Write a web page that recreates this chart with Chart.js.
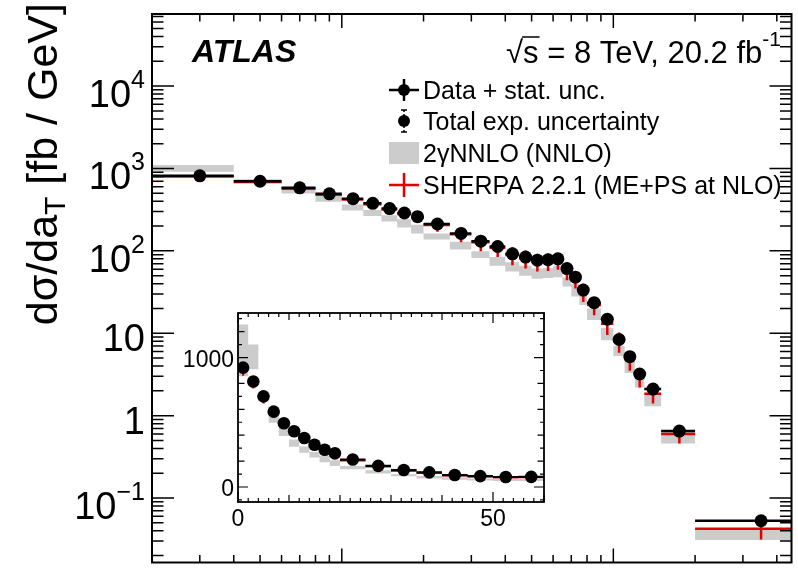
<!DOCTYPE html>
<html>
<head>
<meta charset="utf-8">
<script src="https://cdn.jsdelivr.net/npm/chart.js@4.4.1/dist/chart.umd.min.js"></script>
<style>
body { margin: 0; background: #fff; }
#wrap { position: relative; width: 798px; height: 569px; }
#main { position: absolute; left: 0; top: 0; }
#inset { position: absolute; left: 170px; top: 300px; }
</style>
</head>
<body>
<div id="wrap">
<canvas id="main" width="798" height="569"></canvas>
<canvas id="inset" width="390" height="240"></canvas>
</div>
<script>
// bins in a_T [GeV]
const binEdges = [0, 2, 4, 6, 8, 10, 12, 14, 16, 18, 20, 25, 30, 35, 40, 45, 50, 55, 60, 65, 70, 75, 80, 90, 100, 110, 120, 130, 150, 200, 500];
// dsigma/daT [fb/GeV]
const dataVals = [922, 815, 700, 582, 492, 430, 378, 326, 288, 260, 212, 163, 131, 113, 92, 84, 77, 78, 80, 61, 48, 33.4, 23.5, 14.8, 8.4, 5.2, 3.2, 2.1, 0.65, 0.053];
const dataStat = [20, 14, 12, 10, 9, 8, 7, 7, 6, 6, 4, 4, 3, 3, 3, 3, 3, 3, 3, 2.5, 2, 1.6, 1.1, 0.8, 0.5, 0.35, 0.25, 0.15, 0.05, 0.007];
const nnloLo = [855, 910, 660, 496, 394, 310, 265, 227, 192, 163, 137, 104, 82, 66, 56, 50, 46, 47, 48, 37, 28, 22, 14.5, 8.2, 5.3, 3.3, 2.2, 1.3, 0.46, 0.031];
const nnloHi = [1255, 1100, 740, 595, 490, 366, 313, 270, 242, 207, 163, 129, 99, 84, 73, 66, 61, 62, 66, 48, 39.5, 29, 20, 11.6, 7.0, 5.0, 3.3, 1.8, 0.67, 0.0433];
const sherpaVals = [905, 800, 685, 567, 480, 420, 367, 318, 281, 253, 206, 159, 127, 109, 89, 81, 74, 75, 77, 58, 46, 32, 22, 13, 8.0, 4.8, 3.0, 1.85, 0.60, 0.0424];
const sherpaErr = [45, 40, 40, 35, 30, 30, 30, 32, 32, 30, 35, 32, 28, 25, 22, 20, 18, 18, 18, 14, 11, 8, 5.5, 3.5, 2.2, 1.3, 0.8, 0.45, 0.14, 0.011];

const yTickVals = [1e4, 1e3, 1e2, 10, 1, 0.1];
const yTickBase = ['10', '10', '10', '10', '1', '10'];
const yTickSup = ['4', '3', '2', '', '', '\u22121'];
const insetXTicks = [0, 50];
const insetYTicks = [0, 1000];

const legendLabels = ['Data + stat. unc.', 'Total exp. uncertainty', '2\u03b3NNLO (NNLO)', 'SHERPA 2.2.1 (ME+PS at NLO)'];

const FONT = '"Liberation Sans", Arial, Helvetica, sans-serif';
const GRAY = '#cccccc';
const RED = '#e00000';

function binIdx(keep) {
  const out = [];
  for (let i = 0; i < dataVals.length; i++) if (keep(binEdges[i], binEdges[i + 1])) out.push(i);
  return out;
}
function steps(vals, idx) {
  const pts = [];
  for (const i of idx) {
    pts.push({x: binEdges[i], y: vals[i]}, {x: binEdges[i + 1], y: vals[i]});
  }
  return pts;
}
function segs(vals, idx) {
  const pts = [];
  for (const i of idx) {
    pts.push({x: binEdges[i], y: vals[i]}, {x: binEdges[i + 1], y: vals[i]}, {x: binEdges[i + 1], y: null});
  }
  return pts;
}
function bars(vals, err, idx) {
  const pts = [];
  for (const i of idx) {
    const xc = (binEdges[i] + binEdges[i + 1]) / 2;
    pts.push({x: xc, y: vals[i] - err[i]}, {x: xc, y: vals[i] + err[i]}, {x: xc, y: null});
  }
  return pts;
}
function centres(vals, idx) {
  return idx.map(i => ({x: (binEdges[i] + binEdges[i + 1]) / 2, y: vals[i]}));
}

function makeDatasets(idx, ptR, lw) {
  return [
    {type: 'scatter', data: centres(dataVals, idx), showLine: false, pointRadius: ptR, pointBackgroundColor: '#000', pointBorderWidth: 0, order: 0},
    {data: bars(dataVals, dataStat, idx), borderColor: '#000', borderWidth: lw, pointRadius: 0, order: 1},
    {data: segs(dataVals, idx), borderColor: '#000', borderWidth: lw, pointRadius: 0, order: 2},
    {data: bars(sherpaVals, sherpaErr, idx), borderColor: RED, borderWidth: lw, pointRadius: 0, order: 3},
    {data: segs(sherpaVals, idx), borderColor: RED, borderWidth: lw, pointRadius: 0, order: 4},
    {data: steps(nnloHi, idx), borderWidth: 0, pointRadius: 0, fill: '+1', backgroundColor: GRAY, order: 5},
    {data: steps(nnloLo, idx), borderWidth: 0, pointRadius: 0, order: 6}
  ];
}

function logTicks(min, max) {
  const out = [];
  for (let d = Math.floor(Math.log10(min)); d <= Math.ceil(Math.log10(max)); d++) {
    for (let m = 1; m <= 9; m++) {
      const v = m * Math.pow(10, d);
      if (v >= min && v <= max) out.push({v: v, major: m === 1});
    }
  }
  return out;
}

const mainDecor = {
  id: 'mainDecor',
  afterDraw(chart) {
    const {ctx, chartArea: a, scales: {x, y}} = chart;
    ctx.save();
    ctx.strokeStyle = '#000';
    ctx.lineWidth = 1.5;
    ctx.beginPath();
    for (const t of logTicks(x.min, x.max)) {
      const px = x.getPixelForValue(t.v);
      const len = t.major ? 14 : 7.5;
      ctx.moveTo(px, a.bottom); ctx.lineTo(px, a.bottom - len);
      ctx.moveTo(px, a.top); ctx.lineTo(px, a.top + len);
    }
    for (const t of logTicks(y.min, y.max)) {
      const py = y.getPixelForValue(t.v);
      const len = t.major ? 22 : 11.5;
      ctx.moveTo(a.left, py); ctx.lineTo(a.left + len, py);
      ctx.moveTo(a.right, py); ctx.lineTo(a.right - len, py);
    }
    ctx.stroke();
    ctx.lineWidth = 2;
    ctx.strokeRect(a.left, a.top, a.right - a.left, a.bottom - a.top);

    // y tick labels
    ctx.fillStyle = '#000';
    ctx.textBaseline = 'alphabetic';
    ctx.textAlign = 'left';
    yTickVals.forEach((v, i) => {
      const py = y.getPixelForValue(v);
      ctx.font = '25px ' + FONT;
      const sw = yTickSup[i] ? ctx.measureText(yTickSup[i]).width : 0;
      ctx.font = '38px ' + FONT;
      const bw = ctx.measureText(yTickBase[i]).width;
      const right = 145;
      if (yTickSup[i]) {
        ctx.fillText(yTickBase[i], right - sw - bw, py + 21);
        ctx.font = '25px ' + FONT;
        ctx.fillText(yTickSup[i], right - sw, py + 2);
      } else {
        ctx.fillText(yTickBase[i], right - bw, py + 18);
      }
    });

    // y axis title, rotated, end aligned with top
    ctx.save();
    ctx.translate(57, 3);
    ctx.rotate(-Math.PI / 2);
    const big = '43px ' + FONT, small = '30px ' + FONT;
    ctx.font = big;
    const w1 = ctx.measureText('d\u03c3/da').width;
    const w3 = ctx.measureText(' [fb / GeV]').width;
    ctx.font = small;
    const w2 = ctx.measureText('T').width;
    let cx = -(w1 + w2 + w3);
    ctx.font = big;
    ctx.fillText('d\u03c3/da', cx, 0);
    cx += w1;
    ctx.font = small;
    ctx.fillText('T', cx, 8);
    cx += w2;
    ctx.font = big;
    ctx.fillText(' [fb / GeV]', cx, 0);
    ctx.restore();

    // ATLAS label
    ctx.font = 'italic bold 32px ' + FONT;
    ctx.fillText('ATLAS', 192, 62);

    // sqrt(s) label, right aligned
    const f1 = '31px ' + FONT, f2 = '21px ' + FONT;
    ctx.font = f1;
    const sRoot = ctx.measureText('\u221a').width;
    const sS = ctx.measureText('s').width;
    const sRest = ctx.measureText(' = 8 TeV, 20.2 fb').width;
    ctx.font = f2;
    const sSup = ctx.measureText('-1').width;
    let sx = 781 - (sRoot + sS + sRest + sSup);
    ctx.font = f1;
    ctx.fillText('\u221a', sx, 63);
    ctx.lineWidth = 1.5;
    ctx.beginPath();
    ctx.moveTo(sx + sRoot - 1, 37); ctx.lineTo(sx + sRoot + sS + 1, 37);
    ctx.stroke();
    sx += sRoot;
    ctx.fillText('s', sx, 63);
    sx += sS;
    ctx.fillText(' = 8 TeV, 20.2 fb', sx, 63);
    sx += sRest;
    ctx.font = f2;
    ctx.fillText('-1', sx, 46);

    // legend
    const rows = [90, 121, 153, 185];
    const sx0 = 389, sx1 = 419, sc = 404;
    ctx.lineWidth = 2.5;
    ctx.strokeStyle = '#000';
    ctx.beginPath();
    ctx.moveTo(sx0, rows[0]); ctx.lineTo(sx1, rows[0]);
    ctx.moveTo(sc, rows[0] - 11); ctx.lineTo(sc, rows[0] + 11);
    ctx.stroke();
    ctx.beginPath(); ctx.arc(sc, rows[0], 6, 0, 2 * Math.PI); ctx.fill();
    ctx.lineWidth = 1.5;
    ctx.setLineDash([2, 2]);
    ctx.beginPath();
    ctx.moveTo(sc, rows[1] - 11); ctx.lineTo(sc, rows[1] + 11);
    ctx.stroke();
    ctx.setLineDash([]);
    ctx.beginPath();
    ctx.moveTo(sc - 3, rows[1] - 11); ctx.lineTo(sc + 3, rows[1] - 11);
    ctx.moveTo(sc - 3, rows[1] + 11); ctx.lineTo(sc + 3, rows[1] + 11);
    ctx.stroke();
    ctx.beginPath(); ctx.arc(sc, rows[1], 6, 0, 2 * Math.PI); ctx.fill();
    ctx.fillStyle = GRAY;
    ctx.fillRect(sx0, rows[2] - 11, sx1 - sx0, 22);
    ctx.strokeStyle = RED;
    ctx.lineWidth = 2.5;
    ctx.beginPath();
    ctx.moveTo(sx0, rows[3]); ctx.lineTo(sx1, rows[3]);
    ctx.moveTo(sc, rows[3] - 12); ctx.lineTo(sc, rows[3] + 12);
    ctx.stroke();
    ctx.fillStyle = '#000';
    ctx.font = '25px ' + FONT;
    legendLabels.forEach((t, i) => ctx.fillText(t, 423, rows[i] + 9));
    ctx.restore();
  }
};

const insetDecor = {
  id: 'insetDecor',
  afterDraw(chart) {
    const {ctx, chartArea: a, scales: {x, y}} = chart;
    ctx.save();
    ctx.strokeStyle = '#000';
    ctx.lineWidth = 1.2;
    ctx.beginPath();
    for (let v = 0; v <= x.max; v += 2) {
      const px = x.getPixelForValue(v);
      const len = v % 50 === 0 ? 10 : (v % 10 === 0 ? 7 : 4);
      ctx.moveTo(px, a.bottom); ctx.lineTo(px, a.bottom - len);
      ctx.moveTo(px, a.top); ctx.lineTo(px, a.top + len);
    }
    for (let v = -100; v <= y.max; v += 100) {
      const py = y.getPixelForValue(v);
      const len = v % 1000 === 0 ? 10 : (v % 200 === 0 ? 6.5 : 4);
      ctx.moveTo(a.left, py); ctx.lineTo(a.left + len, py);
      ctx.moveTo(a.right, py); ctx.lineTo(a.right - len, py);
    }
    ctx.stroke();
    ctx.lineWidth = 1.8;
    ctx.strokeRect(a.left, a.top, a.right - a.left, a.bottom - a.top);
    ctx.fillStyle = '#000';
    ctx.font = '23px ' + FONT;
    ctx.textAlign = 'center';
    ctx.textBaseline = 'alphabetic';
    insetXTicks.forEach(v => ctx.fillText(String(v), x.getPixelForValue(v), a.bottom + 24));
    ctx.textAlign = 'right';
    insetYTicks.forEach(v => ctx.fillText(String(v), a.left - 4, y.getPixelForValue(v) + 9));
    ctx.restore();
  }
};

Chart.defaults.font.family = FONT;

const mainIdx = binIdx((lo, hi) => lo >= 2);
new Chart(document.getElementById('main'), {
  type: 'line',
  data: {datasets: makeDatasets(mainIdx, 6.5, 2.5)},
  options: {
    responsive: false,
    animation: false,
    devicePixelRatio: 1,
    layout: {padding: {left: 152, top: 14, right: 1, bottom: 1}},
    elements: {line: {tension: 0}},
    scales: {
      x: {type: 'logarithmic', min: 2, max: 453, display: false},
      y: {type: 'logarithmic', min: 0.0165, max: 75000, display: false}
    },
    plugins: {legend: {display: false}, tooltip: {enabled: false}}
  },
  plugins: [mainDecor]
});

const insetIdx = binIdx((lo, hi) => hi <= 60);
new Chart(document.getElementById('inset'), {
  type: 'line',
  data: {datasets: makeDatasets(insetIdx, 6.3, 2.2)},
  options: {
    responsive: false,
    animation: false,
    devicePixelRatio: 1,
    layout: {padding: {left: 68, top: 13, right: 16, bottom: 38}},
    elements: {line: {tension: 0}},
    scales: {
      x: {type: 'linear', min: 0, max: 60, display: false},
      y: {type: 'linear', min: -116, max: 1344, display: false}
    },
    plugins: {legend: {display: false}, tooltip: {enabled: false}}
  },
  plugins: [insetDecor]
});
</script>
</body>
</html>
